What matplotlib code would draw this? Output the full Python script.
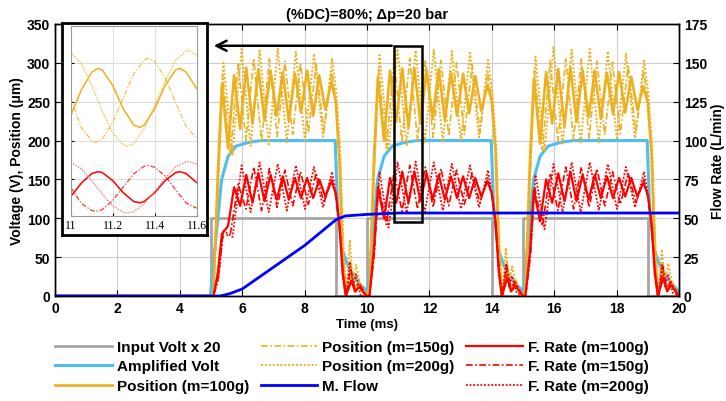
import numpy as np
import matplotlib.pyplot as plt
from matplotlib.patches import Rectangle

plt.rcParams['font.family'] = ['Liberation Sans', 'DejaVu Sans']
plt.rcParams['font.weight'] = 'bold'

# pulse on-phase starts (ms), 80% duty cycle, 5 ms period
starts = [5.0, 10.0, 15.0]

# input voltage (V) -> plotted x 20
t_input = [0, 5, 9, 10, 14, 15, 19, 20]
input_volt = [0, 5, 0, 5, 0, 5, 0, 0]

# amplified voltage (V)
t_amp = [0, 4.98, 5.34, 5.55, 5.81, 6.24, 6.6, 8.98, 9.06, 9.2, 9.4, 9.6, 9.8,
         10.02, 10.34, 10.55, 10.81, 11.24, 11.6, 13.98, 14.06, 14.2, 14.4, 14.6, 14.8,
         15.02, 15.34, 15.55, 15.81, 16.24, 16.6, 18.98, 19.06, 19.2, 19.4, 19.6, 19.8, 20.0]
amp_volt = [0, 0, 150, 180, 193, 198, 200, 200, 110, 60, 38, 24, 14,
            6, 150, 180, 193, 198, 200, 200, 110, 60, 38, 24, 14,
            6, 150, 180, 193, 198, 200, 200, 110, 60, 38, 24, 14, 6]

# mean flow (L/min)
t_mflow = [0, 5.3, 5.6, 6.0, 7.0, 8.0, 9.0, 9.3, 10.0, 11.0, 20.0]
mflow = [0, 0, 1.5, 4.5, 18.5, 32.5, 49, 51.5, 52.5, 53.4, 53.4]

# peaks / troughs read within each on-phase (time relative to phase start)
rel_t100 = [0.0, 0.08, 0.22, 0.35, 0.545, 0.74, 0.935, 1.13, 1.33, 1.52, 1.715, 1.91, 2.105,
            2.30, 2.495, 2.69, 2.885, 3.08, 3.275, 3.47, 3.665, 3.86, 4.0, 4.12, 4.22, 4.32,
            4.5, 4.62, 4.75, 4.99]
pos100_p1 = [0, 5, 160, 272, 190, 284, 215, 294, 222, 292, 226, 290, 232, 288, 225, 286, 236,
             290, 232, 284, 240, 276, 250, 170, 45, 0, 22, 5, 12, 0]
pos100_p2 = [0, 10, 175, 282, 200, 290, 224, 293, 217, 293, 222, 291, 228, 292, 226, 288, 232,
             286, 235, 283, 238, 272, 250, 185, 60, 0, 28, 6, 14, 0]
pos100_p3 = [0, 10, 172, 280, 196, 288, 222, 292, 218, 294, 224, 290, 230, 290, 228, 287, 234,
             288, 236, 282, 240, 270, 248, 182, 58, 0, 30, 8, 16, 0]
flow100_p1 = [0, 0, 15, 40, 45, 70, 58, 78, 60, 79, 61, 78, 62, 77, 62, 76, 63, 76, 63, 75, 64,
              74, 66, 45, 14, 0, 10, 3, 6, 0]
flow100_p2 = [0, 0, 30, 70, 50, 76, 60, 80, 60, 80, 61, 79, 62, 78, 62, 77, 63, 77, 63, 76, 64,
              74, 66, 48, 16, 0, 12, 3, 7, 0]
flow100_p3 = [0, 0, 28, 68, 48, 75, 60, 79, 61, 80, 61, 78, 62, 78, 63, 77, 63, 76, 64, 76, 64,
              73, 65, 47, 15, 0, 12, 3, 7, 0]

rel_t150 = [0.0, 0.08, 0.24, 0.37, 0.62, 0.87, 1.12, 1.37, 1.62, 1.87, 2.12, 2.37, 2.62, 2.87,
            3.12, 3.37, 3.62, 3.87, 4.02, 4.14, 4.24, 4.34, 4.48, 4.6, 4.75, 4.99]
pos150_p1 = [0, 5, 150, 285, 180, 300, 200, 306, 198, 305, 205, 302, 208, 300, 210, 298, 212,
             290, 245, 175, 55, 0, 42, 10, 20, 0]
pos150_p2 = [0, 8, 165, 292, 190, 304, 198, 306, 200, 304, 204, 303, 206, 300, 208, 298, 210,
             288, 248, 182, 60, 0, 45, 12, 22, 0]
pos150_p3 = [0, 8, 160, 290, 188, 303, 199, 305, 201, 305, 203, 302, 207, 301, 209, 297, 211,
             289, 246, 180, 58, 0, 44, 12, 20, 0]
flow150_p1 = [0, 0, 12, 38, 40, 72, 56, 83, 55, 82, 57, 81, 58, 80, 59, 79, 60, 76, 62, 40, 12,
              0, 18, 5, 8, 0]
flow150_p2 = [0, 0, 28, 72, 46, 80, 54.5, 84, 56, 83, 57, 82, 58, 81, 59, 79, 60, 76, 63, 42, 14,
              0, 20, 5, 9, 0]
flow150_p3 = [0, 0, 26, 70, 45, 79, 55, 83, 56, 83, 57, 82, 58, 80, 59, 79, 60, 75, 62, 41, 13,
              0, 19, 5, 9, 0]

rel_t200 = [0.0, 0.08, 0.24, 0.40, 0.69, 0.98, 1.27, 1.56, 1.85, 2.14, 2.43, 2.72, 3.01, 3.30,
            3.59, 3.88, 4.02, 4.14, 4.24, 4.34, 4.45, 4.55, 4.65, 4.8, 4.99]
pos200_p1 = [0, 5, 150, 300, 182, 318, 193, 316, 195, 318, 198, 314, 200, 312, 205, 305, 262,
             190, 70, 0, 72, 15, 40, 10, 0]
pos200_p2 = [0, 8, 170, 310, 188, 318, 193, 316, 196, 317, 198, 315, 200, 313, 204, 304, 262,
             195, 75, 0, 62, 14, 38, 10, 0]
pos200_p3 = [0, 8, 168, 308, 186, 320, 194, 317, 196, 318, 198, 315, 201, 312, 203, 303, 260,
             192, 72, 0, 60, 14, 42, 12, 0]
flow200_p1 = [0, 0, 12, 42, 38, 84, 54, 86, 54, 85, 55, 84, 56, 83, 57, 80, 64, 40, 14, 0, 22,
              6, 14, 0, 0]
flow200_p2 = [0, 0, 30, 80, 44, 86, 53.5, 86.5, 54, 86, 55, 85, 56, 84, 57, 81, 64, 42, 15, 0,
              20, 6, 13, 2, 0]
flow200_p3 = [0, 0, 28, 78, 43, 85, 54, 86, 54, 86, 55, 85, 56, 83, 57, 80, 63, 41, 15, 0, 20,
              6, 14, 2, 0]

# zoomed window 11.0 - 11.6 ms (inset)
t_in100 = [11.0, 11.05, 11.1, 11.13, 11.15, 11.2, 11.25, 11.3, 11.33, 11.35, 11.4, 11.45, 11.5,
           11.52, 11.55, 11.6]
in_pos100 = [232, 265, 288, 293, 291, 271, 241, 220, 217, 220, 241, 271, 291, 293, 288, 267]
in_flow100 = [64, 72.5, 78.8, 80, 79.5, 74.3, 66.5, 60.8, 60, 60.8, 66.5, 74.3, 79.5, 80, 78.8, 73]
t_in150 = [11.0, 11.05, 11.1, 11.12, 11.15, 11.2, 11.25, 11.3, 11.35, 11.37, 11.4, 11.45, 11.5,
           11.55, 11.6]
in_pos150 = [255, 217, 200, 198, 202, 223, 255, 286, 304, 306, 302, 281, 249, 218, 203]
in_flow150 = [70, 59.7, 55, 54.5, 55.6, 61.4, 70.1, 78.6, 83.6, 84, 82.9, 77.2, 68.3, 59.9, 56.5]
t_in200 = [11.0, 11.05, 11.1, 11.15, 11.2, 11.25, 11.27, 11.3, 11.35, 11.4, 11.45, 11.5, 11.55,
           11.56, 11.6]
in_pos200 = [314, 299, 271, 238, 210, 194.5, 193, 196, 215, 245, 277, 303.5, 315.5, 316, 310]
in_flow200 = [86, 82, 74.4, 65.6, 58, 53.9, 53.5, 54.3, 59.3, 67.4, 76, 83.2, 86.4, 86.5, 85]

GRAY = '#a6a6a6'
LBLUE = '#4dbeee'
ORANGE = '#edb120'
BLUE = '#0000ff'
RED = '#ff0000'
DASHDOT = (0, (4, 1.5, 1, 1.5))
DOT = (0, (1, 1))


def build(rel, phases):
    t = [0.0]
    v = [0.0]
    for s, p in zip(starts, phases):
        t += [s + r for r in rel]
        v += list(p)
    return np.array(t), np.array(v)


t100, pos100 = build(rel_t100, [pos100_p1, pos100_p2, pos100_p3])
_, flow100 = build(rel_t100, [flow100_p1, flow100_p2, flow100_p3])
t150, pos150 = build(rel_t150, [pos150_p1, pos150_p2, pos150_p3])
_, flow150 = build(rel_t150, [flow150_p1, flow150_p2, flow150_p3])
t200, pos200 = build(rel_t200, [pos200_p1, pos200_p2, pos200_p3])
_, flow200 = build(rel_t200, [flow200_p1, flow200_p2, flow200_p3])

fig = plt.figure(figsize=(7.26, 4.02), dpi=100)
ax = fig.add_axes([55 / 726, 1 - 297 / 402, 624 / 726, 272 / 402])
ax2 = ax.twinx()

h = []
h += ax.plot(t_input, np.array(input_volt) * 20, color=GRAY, lw=2, drawstyle='steps-post',
             label='Input Volt x 20')
h += ax.plot(t_amp, amp_volt, color=LBLUE, lw=2.2, label='Amplified Volt')
h += ax.plot(t100, pos100, color=ORANGE, lw=1.9, solid_joinstyle='round',
             label='Position (m=100g)')
h += ax.plot(t150, pos150, color=ORANGE, lw=1.2, ls=DASHDOT, label='Position (m=150g)')
h += ax.plot(t200, pos200, color=ORANGE, lw=1.4, ls=DOT, label='Position (m=200g)')
hf = []
hf += ax2.plot(t100, flow100, color=RED, lw=1.6, solid_joinstyle='round',
               label='F. Rate (m=100g)')
hf += ax2.plot(t150, flow150, color=RED, lw=1.2, ls=DASHDOT, label='F. Rate (m=150g)')
hf += ax2.plot(t200, flow200, color=RED, lw=1.3, ls=DOT, label='F. Rate (m=200g)')
hm = ax2.plot(t_mflow, mflow, color=BLUE, lw=2, label='M. Flow')
h += hm + hf

ax.set_xlim(0, 20)
ax.set_ylim(0, 350)
ax2.set_ylim(0, 175)
ax.set_xticks(range(0, 21, 2))
ax.set_yticks(range(0, 351, 50))
ax2.set_yticks(range(0, 176, 25))
ax.grid(True, color='#cccccc', lw=0.8)
ax.tick_params(direction='in', length=4, top=True, labelsize=10)
ax2.tick_params(direction='in', length=4, labelsize=10)
for a in (ax, ax2):
    for sp in a.spines.values():
        sp.set_linewidth(1.0)

ax.set_xlabel('Time (ms)', fontsize=9.5, fontweight='bold', labelpad=2)
ax.set_ylabel('Voltage (V), Position (\u03bcm)', fontsize=10, fontweight='bold', labelpad=2)
ax2.set_ylabel('Flow Rate (L/min)', fontsize=10, fontweight='bold', labelpad=3)
ax.set_title('(%DC)=80%; \u0394p=20 bar', fontsize=10.5, fontweight='bold', pad=4)

# zoom marker and arrow
ax2.add_patch(Rectangle((10.88, 47.5), 0.88, 113.5, fill=False, ec='black', lw=1.8, zorder=5))
ax2.annotate('', xy=(5.0, 161), xytext=(10.88, 161),
             arrowprops=dict(arrowstyle='->', color='black', lw=1.8, mutation_scale=18),
             zorder=5)

fig.legend(h, [l.get_label() for l in h], loc='upper left', ncol=3, frameon=False,
           bbox_to_anchor=(55 / 726, 1 - 341 / 402), borderpad=0, borderaxespad=0,
           fontsize=11, handlelength=3.7, handletextpad=0.35, columnspacing=0.75,
           labelspacing=0.36)

# inset
fr = fig.add_axes([62 / 726, 1 - 236 / 402, 145 / 726, 212 / 402])
fr.set_xticks([])
fr.set_yticks([])
for sp in fr.spines.values():
    sp.set_linewidth(2)

ins = fig.add_axes([70.7 / 726, 1 - 217 / 402, 126 / 726, 190 / 402])
ins.plot(t_in100, in_pos100, color=ORANGE, lw=1.1)
ins.plot(t_in150, in_pos150, color=ORANGE, lw=0.9, ls=DASHDOT, alpha=0.8)
ins.plot(t_in200, in_pos200, color=ORANGE, lw=1.0, ls=DOT, alpha=0.8)
ins.plot(t_in100, np.array(in_flow100) * 2, color=RED, lw=1.1)
ins.plot(t_in150, np.array(in_flow150) * 2, color=RED, lw=0.9, ls=DASHDOT, alpha=0.8)
ins.plot(t_in200, np.array(in_flow200) * 2, color='#f08080', lw=1.0, ls=DOT)
ins.set_xlim(11, 11.6)
ins.set_ylim(103, 347.5)
ins.set_xticks([11, 11.2, 11.4, 11.6])
ins.set_xticklabels(['11', '11.2', '11.4', '11.6'], family='Liberation Serif',
                    fontweight='normal', fontsize=8.5)
ins.set_yticks([150, 200, 250, 300])
ins.set_yticklabels([])
ins.tick_params(direction='in', length=2, pad=2)
ins.grid(True, color='#dddddd', lw=0.7)
for sp in ins.spines.values():
    sp.set_color('#999999')
    sp.set_linewidth(0.8)

fig.savefig('out.png', dpi=100)
